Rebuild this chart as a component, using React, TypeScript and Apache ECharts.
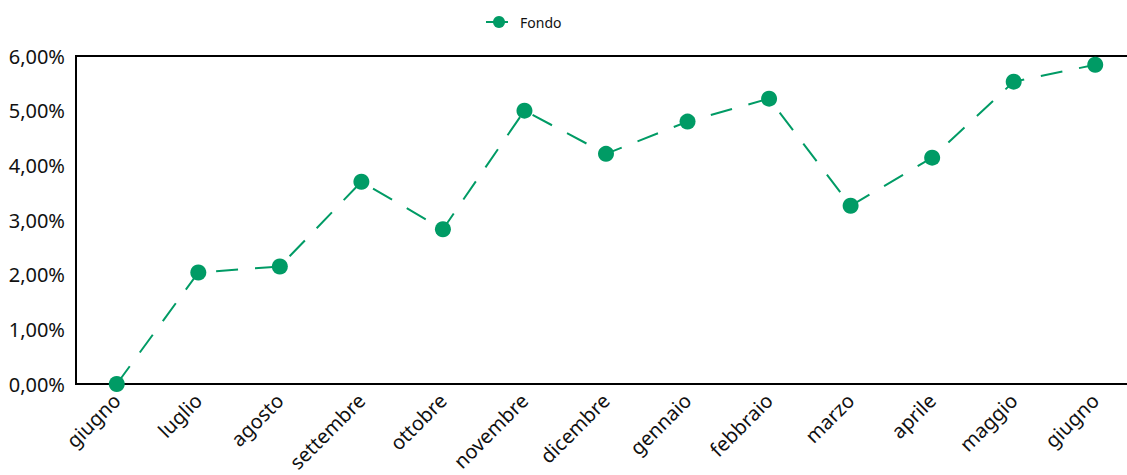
import React, { useEffect, useRef } from "react";
import * as echarts from "echarts";

const categories = [
  "giugno", "luglio", "agosto", "settembre", "ottobre", "novembre",
  "dicembre", "gennaio", "febbraio", "marzo", "aprile", "maggio", "giugno",
];
const fondoValues = [0.0, 2.04, 2.15, 3.7, 2.83, 5.0, 4.21, 4.8, 5.22, 3.26, 4.14, 5.53, 5.84];
const seriesName = "Fondo";

const GREEN = "#009B65";
const FONT = "'Noto Sans', 'Open Sans', sans-serif";

export default function App() {
  const ref = useRef<HTMLDivElement>(null);
  useEffect(() => {
    if (!ref.current) return;
    const chart = echarts.init(ref.current, undefined, { renderer: "svg" });
    chart.setOption({
      animation: false,
      textStyle: { fontFamily: FONT },
      legend: {
        show: true,
        left: 480,
        top: 10,
        itemWidth: 26,
        itemHeight: 15,
        itemGap: 10,
        textStyle: { fontSize: 14, color: "#111", fontFamily: FONT, padding: [0, 0, 0, 3] },
        data: [seriesName],
      },
      grid: {
        left: 76,
        right: 4,
        top: 56,
        bottom: 91,
        show: true,
        borderColor: "#000",
        borderWidth: 2,
        containLabel: false,
      },
      xAxis: {
        type: "category",
        data: categories,
        boundaryGap: true,
        axisLine: { show: true, lineStyle: { color: "#000", width: 2 } },
        axisTick: { show: false },
        splitLine: { show: false },
        axisLabel: {
          rotate: 45,
          interval: 0,
          fontSize: 20,
          color: "#111",
          margin: 13,
          fontFamily: FONT,
        },
      },
      yAxis: {
        type: "value",
        min: 0,
        max: 6,
        interval: 1,
        axisLine: { show: true, lineStyle: { color: "#000", width: 2 } },
        axisTick: { show: false },
        splitLine: { show: false },
        axisLabel: {
          fontSize: 20,
          color: "#111",
          margin: 11,
          fontFamily: FONT,
          formatter: (v: number) => v.toFixed(2).replace(".", ",") + "%",
        },
      },
      series: [
        {
          name: seriesName,
          type: "line",
          data: fondoValues,
          symbol: "circle",
          symbolSize: 16,
          showAllSymbol: true,
          clip: false,
          itemStyle: { color: GREEN },
          lineStyle: { color: GREEN, width: 2, type: [22, 17] },
          emphasis: { disabled: true },
        },
      ],
    });
    return () => chart.dispose();
  }, []);
  return (
    <div style={{ position: "fixed", left: 0, top: 0, width: 1127, height: 475, overflow: "hidden", background: "#fff" }}>
      <div ref={ref} style={{ width: 1140, height: 475 }} />
    </div>
  );
}
